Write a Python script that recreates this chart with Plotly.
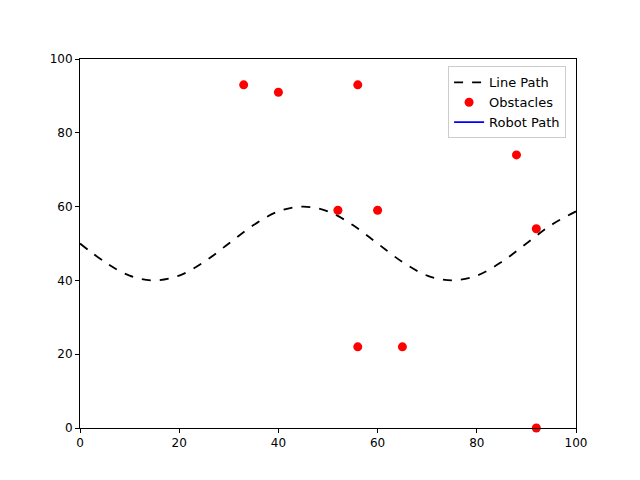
import plotly.graph_objects as go

path_x = [0, 5, 10, 15, 20, 25, 30, 35, 40, 45, 50, 55, 60, 65, 70, 75, 80, 85, 90, 95, 100]
path_y = [50, 45, 41.3, 40, 41.3, 45, 50, 55, 58.7, 60, 58.7, 55, 50, 45, 41.3, 40, 41.3, 45, 50, 55, 58.7]
obs_x = [33, 40, 56, 88, 52, 60, 92, 56, 65, 92]
obs_y = [93, 91, 93, 74, 59, 59, 54, 22, 22, 0]
robot_x = [None]
robot_y = [None]

fig = go.Figure()
fig.add_trace(go.Scatter(x=path_x, y=path_y, mode="lines", name="Line Path",
                         line=dict(color="black", dash="dash", width=1.8, shape="spline")))
fig.add_trace(go.Scatter(x=obs_x, y=obs_y, mode="markers", name="Obstacles",
                         marker=dict(color="red", size=9), cliponaxis=False))
fig.add_trace(go.Scatter(x=robot_x, y=robot_y, mode="lines", name="Robot Path",
                         line=dict(color="blue", width=1.8)))

axis = dict(range=[0, 100], showgrid=False, zeroline=False, showline=True, mirror=True,
            linecolor="black", linewidth=1, ticks="outside", ticklen=4, tickcolor="black",
            dtick=20, tickfont=dict(size=12, color="black"))
fig.update_layout(
    width=640, height=480, template="none",
    paper_bgcolor="white", plot_bgcolor="white",
    font=dict(family="DejaVu Sans", size=12, color="black"),
    margin=dict(l=72, r=72, t=51, b=60),
    xaxis=axis, yaxis=axis,
    legend=dict(x=0.98, y=0.98, xanchor="right", yanchor="top",
                bordercolor="#cccccc", borderwidth=1, bgcolor="white",
                font=dict(size=13)),
)
fig.write_html("out.html")
